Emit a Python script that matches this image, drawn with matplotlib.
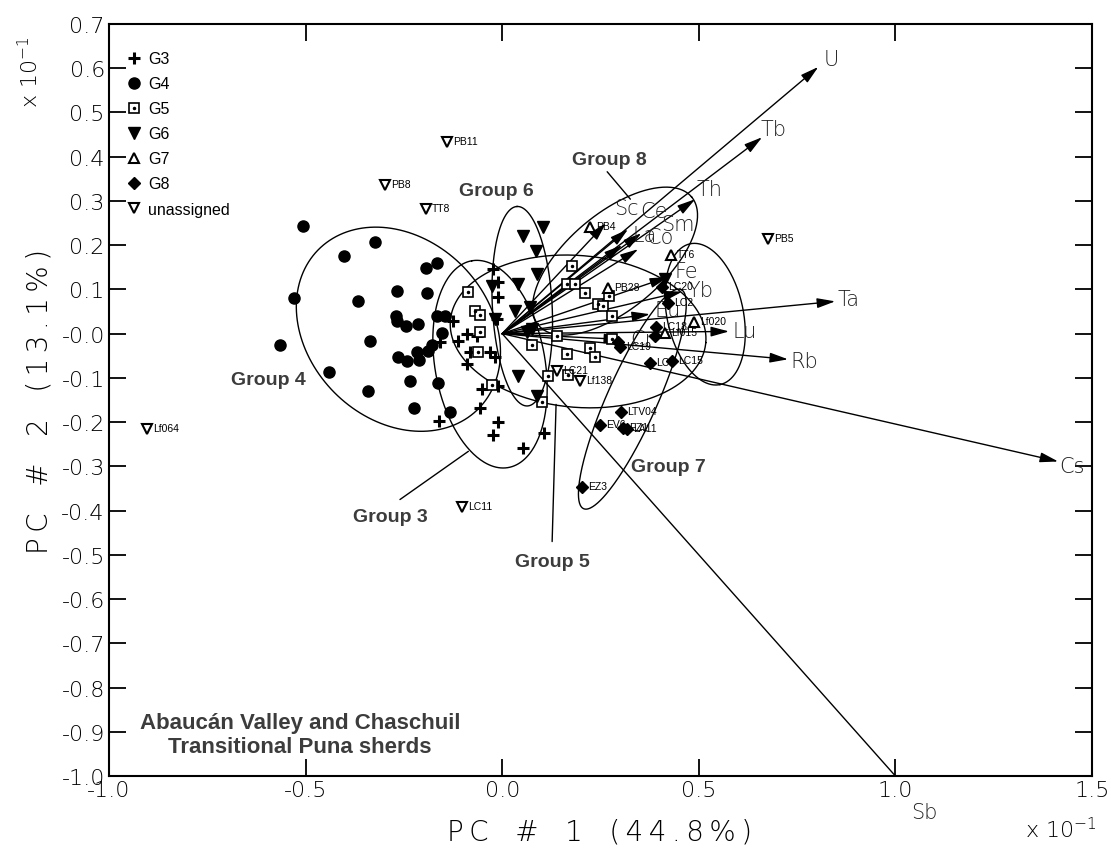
import numpy as np
import matplotlib
matplotlib.use("Agg")
import matplotlib.pyplot as plt
from matplotlib.lines import Line2D

# PC scores (units of 10^-1)
g3_x = [-0.023, -0.010, -0.010, -0.125, -0.089, -0.112, -0.064, -0.158, -0.081, -0.031, -0.018,
        -0.089, -0.013, -0.051, -0.010, -0.056, -0.160, -0.010, -0.023, 0.107, 0.053]
g3_y = [0.146, 0.116, 0.082, 0.028, -0.001, -0.017, -0.006, -0.019, -0.042, -0.042, -0.053,
        -0.069, 0.033, -0.126, -0.119, -0.167, -0.198, -0.200, -0.228, -0.225, -0.259]

g4_x = [-0.506, -0.323, -0.402, -0.165, -0.193, -0.267, -0.191, -0.529, -0.366, -0.270, -0.267,
        -0.244, -0.214, -0.165, -0.145, -0.153, -0.336, -0.565, -0.178, -0.188, -0.216, -0.264,
        -0.242, -0.211, -0.440, -0.234, -0.163, -0.341, -0.224, -0.132]
g4_y = [0.243, 0.207, 0.175, 0.159, 0.148, 0.096, 0.091, 0.080, 0.073, 0.039, 0.028,
        0.017, 0.021, 0.039, 0.039, 0.001, -0.017, -0.026, -0.026, -0.040, -0.042, -0.053,
        -0.062, -0.060, -0.087, -0.108, -0.112, -0.130, -0.169, -0.178]

g5_x = [0.178, 0.165, 0.186, 0.211, 0.272, 0.244, 0.257, 0.280, -0.086, -0.069, -0.056, -0.056,
        -0.061, -0.025, 0.076, 0.140, 0.165, 0.224, 0.237, 0.280, 0.117, 0.168, 0.102]
g5_y = [0.153, 0.112, 0.112, 0.091, 0.085, 0.067, 0.062, 0.039, 0.094, 0.051, 0.042, 0.003,
        -0.042, -0.115, -0.026, -0.006, -0.046, -0.033, -0.053, -0.013, -0.096, -0.094, -0.155]

g6_x = [0.104, 0.053, 0.086, 0.089, 0.041, -0.025, 0.071, 0.033, -0.018, 0.064, 0.076, 0.041, 0.089, 0.415]
g6_y = [0.241, 0.220, 0.186, 0.134, 0.112, 0.107, 0.060, 0.051, 0.033, 0.003, 0.010, -0.096, -0.142, 0.123]

g7_names = ["PB4", "PB28", "TT6", "Lf020", "Lf015"]
g7_x = [0.224, 0.270, 0.430, 0.488, 0.415]
g7_y = [0.241, 0.103, 0.177, 0.026, 0.001]

g8_names = ["LC20", "LC2", "LC18", "", "", "LC19", "LC6", "LC15", "LTV04", "EV6", "EZ1", "LA11", "EZ3"]
g8_x = [0.407, 0.422, 0.392, 0.389, 0.295, 0.300, 0.376, 0.432, 0.303, 0.249, 0.308, 0.318, 0.203]
g8_y = [0.105, 0.069, 0.015, -0.006, -0.019, -0.031, -0.067, -0.062, -0.178, -0.207, -0.214, -0.216, -0.347]

un_names = ["PB11", "PB8", "TT8", "PB5", "Lf064", "LC11", "LC21", "Lf138"]
un_x = [-0.140, -0.298, -0.193, 0.677, -0.903, -0.102, 0.140, 0.198]
un_y = [0.433, 0.336, 0.281, 0.214, -0.216, -0.393, -0.085, -0.108]

# element loadings (arrow tips)
vec_names = ["U", "Tb", "Th", "Sc", "Ce", "Sm", "La", "Co", "Fe", "Yb", "Eu", "Cr", "Lu", "Ta", "Rb", "Cs", "Sb"]
vec_x = [0.804, 0.661, 0.491, 0.264, 0.320, 0.354, 0.305, 0.346, 0.422, 0.458, 0.376, 0.305, 0.577, 0.847, 0.727, 1.414, 1.0]
vec_y = [0.603, 0.444, 0.304, 0.250, 0.236, 0.227, 0.200, 0.191, 0.128, 0.095, 0.044, -0.013, 0.005, 0.073, -0.058, -0.289, -1.0]
# label offsets in pixels from the arrow tip
vec_off = [(13, 8), (11, 8), (14, 10), (20, 15), (26, 18), (36, 9), (23, 10), (22, 12), (18, 6), (18, 2),
           (18, 4), (20, 0), (16, 0), (13, 2), (16, -2), (14, -5), (29, -36)]

# group ellipses: centre, semi axes (x units), angle on screen
ell_cx = [-0.264, -0.031, 0.051, 0.193, 0.287, 0.331, 0.516]
ell_cy = [0.010, -0.069, 0.062, 0.005, 0.164, -0.148, 0.044]
ell_a = [0.287, 0.267, 0.254, 0.326, 0.254, 0.305, 0.183]
ell_b = [0.229, 0.140, 0.076, 0.193, 0.122, 0.064, 0.097]
ell_ang = [-45, 100, 93, -5, 40, 66, -78]

fig = plt.figure(figsize=(11.11, 8.53), dpi=100)
ax = fig.add_axes([109 / 1111, 76 / 853, 983 / 1111, 752 / 853])
ax.set_xlim(-1.0, 1.5)
ax.set_ylim(-1.0, 0.7)

# y/x pixel-per-unit ratio so ellipses keep their screen shape
k = (752 / 1.7) / (983 / 2.5)
t = np.linspace(0, 2 * np.pi, 300)
for cx, cy, a, b, ang in zip(ell_cx, ell_cy, ell_a, ell_b, ell_ang):
    th = np.radians(ang)
    u, v = a * np.cos(t), b * np.sin(t)
    ax.plot(cx + u * np.cos(th) - v * np.sin(th), cy + (u * np.sin(th) + v * np.cos(th)) / k,
            color="black", lw=1.0, zorder=2)

# loading vectors
for name, x, y, off in zip(vec_names, vec_x, vec_y, vec_off):
    if name == "Sb":
        ax.plot([0, x], [0, y], color="black", lw=1.0, zorder=3)
    else:
        ax.annotate("", xy=(x, y), xytext=(0, 0),
                    arrowprops=dict(arrowstyle="-|>,head_length=1.1,head_width=0.3", mutation_scale=10,
                                    color="black", lw=1.0, shrinkA=0, shrinkB=0), zorder=3)
    ax.annotate(name, xy=(x, y), xytext=off, textcoords="offset pixels", ha="center", va="center",
                fontsize=15, color="#222222", annotation_clip=False, fontweight="light")

ms = dict(ls="none", color="black", zorder=4)
ax.plot(g3_x, g3_y, marker="+", ms=9, mew=2.2, **ms)
ax.plot(g4_x, g4_y, marker="o", ms=8, **ms)
ax.plot(g5_x, g5_y, marker="s", ms=7, mfc="white", mew=1.2, **ms)
ax.plot(g5_x, g5_y, marker=".", ms=3, **ms)
ax.plot(g6_x, g6_y, marker="v", ms=8.5, **ms)
ax.plot(g7_x, g7_y, marker="^", ms=7.5, mfc="white", mew=1.5, **ms)
ax.plot(g8_x, g8_y, marker="D", ms=6.5, **ms)
ax.plot(un_x, un_y, marker="v", ms=7.5, mfc="white", mew=1.5, **ms)

for names, xs, ys in [(g7_names, g7_x, g7_y), (g8_names, g8_x, g8_y), (un_names, un_x, un_y)]:
    for n, x, y in zip(names, xs, ys):
        if n:
            ax.annotate(n, xy=(x, y), xytext=(6, 1), textcoords="offset pixels", ha="left", va="center",
                        fontsize=7.5, family="Liberation Sans", zorder=5)

# group labels and leader lines
grp = dict(fontsize=14, fontweight="bold", color="#3c3c3c", family="Liberation Sans", ha="center", va="center")
ax.text(-0.595, -0.103, "Group 4", **grp)
ax.text(-0.016, 0.324, "Group 6", **grp)
ax.text(-0.284, -0.413, "Group 3", **grp)
ax.text(0.127, -0.515, "Group 5", **grp)
ax.text(0.272, 0.394, "Group 8", **grp)
ax.text(0.422, -0.300, "Group 7", **grp)
lead = dict(arrowstyle="-", lw=1.0, color="black", shrinkA=0, shrinkB=0)
ax.annotate("", xy=(-0.086, -0.266), xytext=(-0.260, -0.375), arrowprops=lead)
ax.annotate("", xy=(0.137, -0.160), xytext=(0.127, -0.470), arrowprops=lead)
ax.annotate("", xy=(0.326, 0.304), xytext=(0.267, 0.366), arrowprops=lead)

ax.text(-0.514, -0.906, "Abaucán Valley and Chaschuil\nTransitional Puna sherds", ha="center", va="center",
        fontsize=16, fontweight="bold", color="#3c3c3c", family="Liberation Sans", linespacing=1.15)

# legend
h = [Line2D([], [], marker="+", ms=9, mew=2.2, **ms),
     Line2D([], [], marker="o", ms=8, **ms),
     (Line2D([], [], marker="s", ms=7, mfc="white", mew=1.2, **ms), Line2D([], [], marker=".", ms=3, **ms)),
     Line2D([], [], marker="v", ms=8.5, **ms),
     Line2D([], [], marker="^", ms=7.5, mfc="white", mew=1.5, **ms),
     Line2D([], [], marker="D", ms=6.5, **ms),
     Line2D([], [], marker="v", ms=7.5, mfc="white", mew=1.5, **ms)]
ax.legend(h, ["G3", "G4", "G5", "G6", "G7", "G8", "unassigned"], loc="upper left", bbox_to_anchor=(0.003, 0.983),
          frameon=False, handlelength=1.0, handletextpad=0.35, labelspacing=0.63,
          prop=dict(family="Liberation Sans", size=11.5))

ax.set_xticks([-1.0, -0.5, 0.0, 0.5, 1.0, 1.5])
ax.set_yticks(np.round(np.arange(-1.0, 0.71, 0.1), 1))
ax.xaxis.set_major_formatter(plt.FormatStrFormatter("%.1f"))
ax.yaxis.set_major_formatter(plt.FormatStrFormatter("%.1f"))
ax.tick_params(direction="in", length=12, width=1.3, top=True, right=True, labelsize=16, pad=3)
for lab in ax.get_xticklabels() + ax.get_yticklabels():
    lab.set_fontweight("light")
for s in ax.spines.values():
    s.set_linewidth(1.5)

ts = "\u2009"
lbl = dict(fontsize=20, fontweight="light", ha="center", va="center")
fig.text(600 / 1111, 1 - 833 / 853, "P" + ts + "C   #   1   " + ts.join("(44.8%)"), **lbl)
fig.text(40 / 1111, 1 - 401 / 853, "P" + ts + "C   #   2   " + ts.join("(13.1%)"), rotation=90, **lbl)
fig.text(1061 / 1111, 1 - 830 / 853, r"x $\mathregular{10^{-1}}$", fontsize=16, ha="center", va="center", fontweight="light")
fig.text(30 / 1111, 1 - 72 / 853, r"x $\mathregular{10^{-1}}$", fontsize=16, ha="center", va="center", rotation=90, fontweight="light")

fig.savefig("out.png", dpi=100)
